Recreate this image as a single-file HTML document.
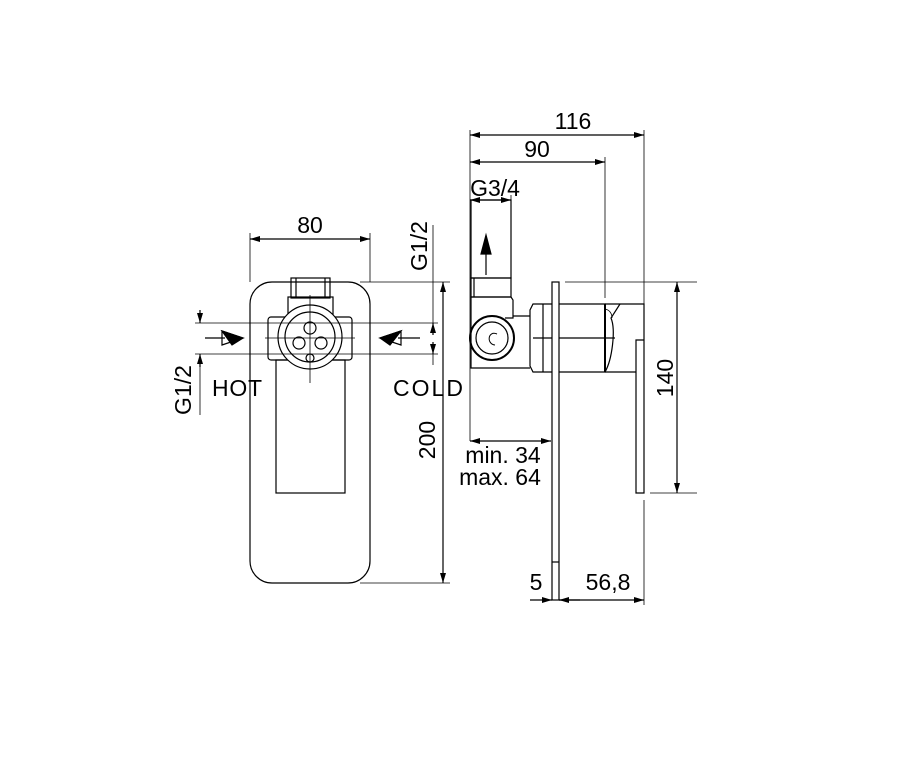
<!DOCTYPE html>
<html><head><meta charset="utf-8"><style>
html,body{margin:0;padding:0;background:#fff}
svg{display:block}
text{font-family:"Liberation Sans",Arial,sans-serif;fill:#000}
</style></head><body>
<svg width="900" height="776" viewBox="0 0 900 776" xmlns="http://www.w3.org/2000/svg">
<defs>
<marker id="a" viewBox="0 0 10 6" refX="10" refY="3" markerWidth="10" markerHeight="6" orient="auto-start-reverse" markerUnits="userSpaceOnUse"><path d="M0,0 L10,3 L0,6 Z" fill="#000"/></marker>
</defs>
<g fill="none" stroke="#000" stroke-width="1.2">
<rect x="250" y="282" width="120" height="301" rx="22"/>
<rect x="276" y="360" width="69" height="133"/>
<rect x="291" y="278" width="39" height="20"/>
<line x1="296" y1="278" x2="296" y2="298"/><line x1="325" y1="278" x2="325" y2="298"/>
<rect x="288" y="297" width="45" height="18"/>
<rect x="268" y="317" width="84" height="43" rx="3"/>
<circle cx="310" cy="337" r="32" fill="#fff"/>
<circle cx="310" cy="337" r="25"/>
<circle cx="310" cy="328" r="6"/>
<circle cx="299" cy="343" r="6"/>
<circle cx="321" cy="343" r="6"/>
<circle cx="310" cy="358" r="4"/>
<line x1="310" y1="295" x2="310" y2="383" stroke-width="0.8"/>
<line x1="265" y1="338" x2="355" y2="338" stroke-width="0.8"/>
<line x1="195" y1="323" x2="438" y2="323" stroke-width="0.8"/>
<line x1="195" y1="354" x2="438" y2="354" stroke-width="0.8"/>
<line x1="200" y1="310" x2="200" y2="323" marker-end="url(#a)"/>
<line x1="200" y1="367" x2="200" y2="354" marker-end="url(#a)"/>
<line x1="200" y1="354" x2="200" y2="415" stroke-width="0.8"/>
<line x1="205" y1="338" x2="225" y2="338"/>
<path d="M222,331 L243,338 L222,345 Z"/>
<path d="M222,331 L243,338 L232,345 Z" fill="#000"/>
<line x1="398" y1="338" x2="420" y2="338"/>
<path d="M401,331 L380,338 L401,345 Z"/>
<path d="M401,331 L380,338 L390,345 Z" fill="#000"/>
<line x1="433" y1="225" x2="433" y2="323" stroke-width="0.8"/>
<line x1="433" y1="335" x2="433" y2="323" marker-end="url(#a)"/>
<line x1="433" y1="342" x2="433" y2="354" marker-end="url(#a)"/>
<line x1="433" y1="354" x2="433" y2="365" stroke-width="0.8"/>
<line x1="250" y1="233" x2="250" y2="282" stroke-width="0.8"/>
<line x1="370" y1="233" x2="370" y2="282" stroke-width="0.8"/>
<line x1="250" y1="239" x2="370" y2="239" marker-start="url(#a)" marker-end="url(#a)"/>
<line x1="360" y1="282" x2="450" y2="282" stroke-width="0.8"/>
<line x1="360" y1="583" x2="450" y2="583" stroke-width="0.8"/>
<line x1="443" y1="282" x2="443" y2="583" marker-start="url(#a)" marker-end="url(#a)"/>

<rect x="471" y="200" width="40" height="78"/>
<rect x="471" y="278" width="40" height="19"/>
<line x1="474" y1="278" x2="474" y2="297"/>
<path d="M471,297 L511,297 L513,300 L513,318 L505,318"/>
<path d="M471,297 L471,368 L530,368"/>
<path d="M513,316 L530,316"/>
<circle cx="492" cy="338" r="22" stroke-width="2"/>
<circle cx="492" cy="338" r="16"/>
<path d="M497,334 C488,330 486,344 495,345" stroke-width="1"/>
<path d="M533,304 L605,304 L605,372 L533,372 L530,366 L530,310 Z"/>
<line x1="543" y1="304" x2="543" y2="372"/>
<line x1="533" y1="338" x2="615" y2="338"/>
<path d="M605,304 L620,304 L644,304 L644,340 L636,340 L636,493 L644,493 L644,340"/>
<path d="M620,304 L611,318 C616,330 612,360 605,372"/>
<path d="M605,309 C610,310 612,314 612,318" stroke-width="0.8"/>
<line x1="605" y1="372" x2="636" y2="372"/>
<line x1="605" y1="304" x2="605" y2="372" stroke-width="2"/>
<rect x="552" y="282" width="7" height="318" fill="#fff"/>
<line x1="552" y1="562" x2="559" y2="562"/>
<line x1="486" y1="275" x2="486" y2="250"/>
<path d="M486,235 L481,254 L491,254 Z" fill="#000"/>
<line x1="470" y1="130" x2="470" y2="441" stroke-width="0.8"/>
<line x1="644" y1="130" x2="644" y2="304" stroke-width="0.8"/>
<line x1="470" y1="135" x2="644" y2="135" marker-start="url(#a)" marker-end="url(#a)"/>
<line x1="605" y1="157" x2="605" y2="298" stroke-width="0.8"/>
<line x1="470" y1="162" x2="605" y2="162" marker-start="url(#a)" marker-end="url(#a)"/>
<line x1="511" y1="195" x2="511" y2="200" stroke-width="0.8"/>
<line x1="470" y1="200" x2="511" y2="200" marker-start="url(#a)" marker-end="url(#a)"/>
<line x1="565" y1="282" x2="697" y2="282" stroke-width="0.8"/>
<line x1="650" y1="493" x2="697" y2="493" stroke-width="0.8"/>
<line x1="677" y1="282" x2="677" y2="493" marker-start="url(#a)" marker-end="url(#a)"/>
<line x1="470" y1="441" x2="551" y2="441" marker-start="url(#a)" marker-end="url(#a)"/>
<line x1="644" y1="500" x2="644" y2="605" stroke-width="0.8"/>
<line x1="530" y1="600" x2="552" y2="600" marker-end="url(#a)"/>
<line x1="580" y1="600" x2="559" y2="600" marker-end="url(#a)"/>
<line x1="559" y1="600" x2="644" y2="600" marker-end="url(#a)"/>
</g>
<g font-size="23">
<text x="310" y="233" text-anchor="middle">80</text>
<text x="212" y="396" textLength="50">HOT</text>
<text x="393" y="396" textLength="70">COLD</text>
<text transform="translate(191,390) rotate(-90)" text-anchor="middle">G1/2</text>
<text transform="translate(427,246) rotate(-90)" text-anchor="middle">G1/2</text>
<text transform="translate(435,440) rotate(-90)" text-anchor="middle">200</text>
<text x="573" y="129" text-anchor="middle">116</text>
<text x="537" y="157" text-anchor="middle">90</text>
<text x="495" y="196" text-anchor="middle">G3/4</text>
<text transform="translate(673,378) rotate(-90)" text-anchor="middle">140</text>
<text x="503" y="463" text-anchor="middle">min. 34</text>
<text x="500" y="485" text-anchor="middle">max. 64</text>
<text x="536" y="590" text-anchor="middle">5</text>
<text x="608" y="590" text-anchor="middle">56,8</text>
</g>
</svg>
</body></html>
